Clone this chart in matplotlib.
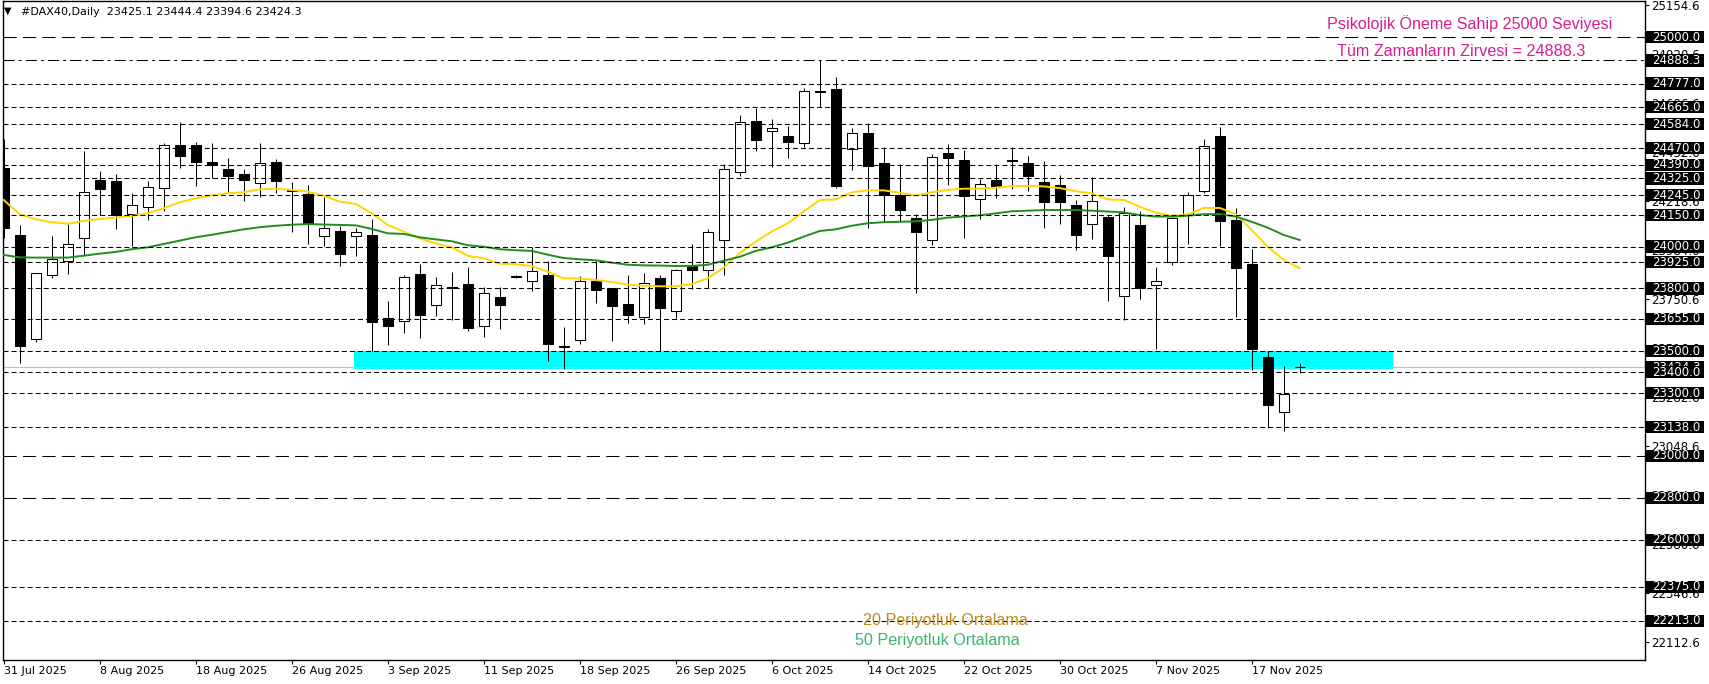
import matplotlib
matplotlib.use("Agg")
import matplotlib.pyplot as plt
from matplotlib.patches import Rectangle
from matplotlib.transforms import blended_transform_factory

plt.rcParams['lines.scale_dashes'] = False

# daily candles, one per bar (oldest first)
opens = [24373, 24053, 23557, 23863, 23932, 24039, 24317, 24313, 24157, 24187,
         24278, 24483, 24483, 24403, 24369, 24346, 24302, 24403, 24270, 24251,
         24049, 24074, 24049, 24053, 23657, 23646, 23869, 23719, 23805, 23821,
         23620, 23759, 23858, 23837, 23863, 23526, 23552, 23834, 23800, 23724,
         23662, 23848, 23691, 23913, 23890, 24030, 24354, 24598, 24550, 24526,
         24493, 24741, 24750, 24464, 24540, 24397, 24244, 24135, 24030, 24445,
         24413, 24225, 24317, 24412, 24397, 24306, 24292, 24197, 24106, 24140,
         23762, 24101, 23815, 23926, 24149, 24264, 24527, 24125, 23917, 23473,
         23209, 23425.1]
highs = [24513, 24101, 23875, 24049, 24106, 24456, 24360, 24346, 24255, 24313,
         24493, 24593, 24497, 24493, 24422, 24370, 24494, 24418, 24308, 24292,
         24238, 24099, 24087, 24130, 23740, 23863, 23915, 23854, 23878, 23902,
         23807, 23807, 23862, 23999, 23930, 23616, 23858, 23932, 23802, 23863,
         23872, 23863, 23893, 24012, 24084, 24392, 24628, 24663, 24609, 24574,
         24755, 24888.3, 24809, 24566, 24588, 24474, 24392, 24154, 24440, 24488,
         24459, 24324, 24392, 24474, 24430, 24407, 24341, 24222, 24330, 24152,
         24190, 24171, 23901, 24140, 24260, 24512, 24569, 24182, 23988, 23503,
         23430, 23444.4]
lows = [24041, 23445, 23546, 23851, 23869, 23960, 24152, 24085, 24002, 24128,
        24171, 24376, 24290, 24328, 24260, 24219, 24238, 24257, 24071, 24013,
        24002, 23907, 23955, 23503, 23530, 23589, 23565, 23670, 23651, 23598,
        23569, 23608, 23852, 23789, 23455, 23417, 23533, 23732, 23550, 23636,
        23629, 23503, 23657, 23796, 23801, 23864, 24335, 24457, 24381, 24424,
        24475, 24666, 24281, 24367, 24090, 24118, 24118, 23780, 24009, 24294,
        24042, 24130, 24230, 24273, 24266, 24090, 24109, 23985, 24037, 23741,
        23651, 23751, 23512, 23910, 24013, 24254, 24001, 23664, 23412, 23135,
        23121, 23394.6]
closes = [24090, 23527, 23872, 23939, 24011, 24259, 24276, 24148, 24197, 24283,
          24483, 24430, 24405, 24391, 24338, 24317, 24397, 24314, 24264, 24114,
          24087, 23966, 24068, 23641, 23622, 23853, 23675, 23815, 23800, 23613,
          23777, 23722, 23855, 23882, 23536, 23522, 23834, 23794, 23717, 23675,
          23824, 23708, 23886, 23889, 24068, 24369, 24593, 24507, 24564, 24497,
          24741, 24736, 24290, 24540, 24386, 24244, 24176, 24071, 24426, 24424,
          24240, 24297, 24290, 24410, 24338, 24214, 24214, 24056, 24216, 23956,
          24159, 23803, 23834, 24135, 24244, 24478, 24123, 23899, 23512, 23245,
          23295, 23424.3]

# moving averages
ma20 = [24222, 24154, 24130, 24116, 24109, 24122, 24131, 24138, 24146, 24159,
        24182, 24211, 24230, 24244, 24254, 24259, 24273, 24276, 24270, 24262,
        24243, 24214, 24203, 24159, 24103, 24071, 24039, 24015, 23996, 23956,
        23944, 23918, 23915, 23907, 23880, 23848, 23847, 23840, 23831, 23818,
        23813, 23810, 23810, 23820, 23848, 23899, 23968, 24023, 24071, 24111,
        24167, 24222, 24225, 24259, 24268, 24268, 24257, 24243, 24259, 24270,
        24276, 24276, 24281, 24288, 24289, 24287, 24279, 24264, 24254, 24225,
        24222, 24190, 24162, 24146, 24154, 24184, 24184, 24155, 24079, 23999,
        23936, 23896]
ma50 = [23960, 23948, 23947, 23947, 23947, 23956, 23966, 23974, 23987, 23996,
        24012, 24028, 24044, 24056, 24069, 24082, 24092, 24099, 24104, 24107,
        24105, 24103, 24101, 24084, 24063, 24060, 24044, 24034, 24025, 24006,
        23999, 23987, 23982, 23979, 23961, 23945, 23939, 23934, 23923, 23913,
        23910, 23909, 23907, 23907, 23913, 23932, 23951, 23979, 23996, 24018,
        24047, 24074, 24082, 24099, 24111, 24116, 24118, 24120, 24127, 24138,
        24143, 24149, 24158, 24168, 24171, 24174, 24174, 24174, 24171, 24167,
        24163, 24150, 24143, 24143, 24147, 24154, 24155, 24143, 24118, 24090,
        24055, 24031]

# horizontal levels drawn on the chart
dotted_levels = [24777.0, 24665.0, 24584.0, 24470.0, 24390.0, 24325.0, 24245.0,
                 24150.0, 24000.0, 23925.0, 23800.0, 23655.0, 23500.0, 23400.0,
                 23300.0, 23138.0, 22600.0, 22375.0, 22213.0]
dashed_levels = [25000.0, 23000.0, 22800.0]
ath_level = 24888.3
bid_price = 23424.3

zone_low, zone_high = 23415, 23500
zone_start, zone_end = 21.9, 86.8

date_pos = [0, 6, 12, 18, 24, 30, 36, 42, 48, 54, 60, 66, 72, 78]
date_labels = ["31 Jul 2025", "8 Aug 2025", "18 Aug 2025", "26 Aug 2025",
               "3 Sep 2025", "11 Sep 2025", "18 Sep 2025", "26 Sep 2025",
               "6 Oct 2025", "14 Oct 2025", "22 Oct 2025", "30 Oct 2025",
               "7 Nov 2025", "17 Nov 2025"]
price_ticks = [22112.6 + 234 * k for k in range(14)]

W, H = 1709, 684
fig = plt.figure(figsize=(W / 100, H / 100), dpi=100)
fig.patch.set_facecolor("white")
ax = fig.add_axes([3 / W, 24 / H, 1642 / W, 659 / H])
ax.set_xlim(-0.04, 102.58)
ax.set_ylim(22026, 25172)
px = (25172 - 22026) / 659  # price units per pixel

# support zone + bid line
ax.add_patch(Rectangle((zone_start, zone_low), zone_end - zone_start,
                       zone_high - zone_low, facecolor="#00FFFF",
                       edgecolor="none", zorder=1))
ax.axhline(bid_price, color="#C0C0C0", lw=0.8, zorder=1.5)

# candles
x = list(range(len(opens)))
ax.vlines(x, lows, highs, color="black", lw=0.75, zorder=3)
for i in x:
    o, c = opens[i], closes[i]
    bottom = min(o, c)
    h = max(abs(c - o), 2)
    fc = "white" if c >= o else "black"
    ax.bar(i, h, bottom=bottom, width=0.64, facecolor=fc,
           edgecolor="black", linewidth=0.75, zorder=4)

ax.plot(x, ma20, color="#FFD700", lw=1.4, zorder=5)
ax.plot(x, ma50, color="#228B22", lw=1.4, zorder=5)

# levels
for lv in dotted_levels:
    ax.axhline(lv, color="black", lw=0.75, linestyle=(0, (3.6, 2.2)), zorder=6)
for lv in dashed_levels:
    ax.axhline(lv, color="black", lw=0.75, linestyle=(0, (9.5, 4.5)), zorder=6)
ax.axhline(ath_level, color="black", lw=0.75,
           linestyle=(0, (8, 3, 2, 3)), zorder=6)

# right price scale
ax.yaxis.tick_right()
ax.set_yticks(price_ticks)
ax.set_yticklabels([f"{t:.1f}" for t in price_ticks])
ax.tick_params(axis="y", labelsize=8.5, length=3, pad=1.5, width=0.8)
ax.set_xticks(date_pos)
ax.set_xticklabels(date_labels)
ax.tick_params(axis="x", labelsize=8, length=3, pad=1.5, width=0.8)
for lbl in ax.get_xticklabels():
    lbl.set_horizontalalignment("left")
for sp in ax.spines.values():
    sp.set_linewidth(1.0)
    sp.set_color("black")

trans = blended_transform_factory(ax.transAxes, ax.transData)
box_w = 59 / 1642
box_h = 12.5 * px


def price_box(level, z):
    ax.add_patch(Rectangle((1.0, level - box_h / 2), box_w, box_h,
                           transform=trans, facecolor="black",
                           edgecolor="none", clip_on=False, zorder=z))
    ax.text(1 + 7 / 1642, level, f"{level:.1f}", transform=trans, ha="left",
            va="center", fontsize=8.5, color="white", clip_on=False,
            zorder=z + 0.1)


price_box(bid_price, 7)
for lv in dotted_levels + dashed_levels + [ath_level]:
    price_box(lv, 8)

# header
fig.text(4 / W, 1 - 11 / H, "\u25bc", fontsize=7, va="center", ha="left")
fig.text(21 / W, 1 - 12 / H, "#DAX40,Daily  23425.1 23444.4 23394.6 23424.3",
         fontsize=8, va="center", ha="left")

# annotations
pink = "#D41F8E"
fig.text(1612 / W, 1 - 24 / H, "Psikolojik Öneme Sahip 25000 Seviyesi",
         fontsize=11.6, color=pink, ha="right", va="center",
         family="Liberation Sans")
fig.text(1585 / W, 1 - 52 / H, "Tüm Zamanların Zirvesi = 24888.3",
         fontsize=11.6, color=pink, ha="right", va="center",
         family="Liberation Sans")
fig.text(863 / W, 1 - 620 / H, "20 Periyotluk Ortalama", fontsize=11.6,
         color="#C08A14", ha="left", va="center", family="Liberation Sans",
         zorder=1)
fig.text(855 / W, 1 - 641 / H, "50 Periyotluk Ortalama", fontsize=11.6,
         color="#3CB371", ha="left", va="center", family="Liberation Sans")

fig.savefig("out.png", dpi=100, facecolor="white")
